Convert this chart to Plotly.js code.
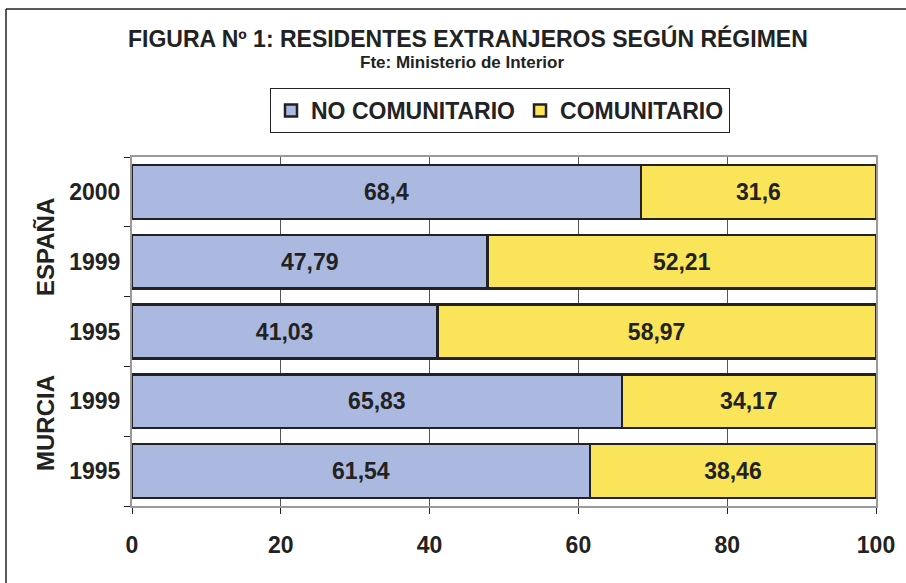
<!DOCTYPE html>
<html>
<head>
<meta charset="utf-8">
<script src="https://cdn.plot.ly/plotly-3.0.1.min.js"></script>
<style>
html,body{margin:0;padding:0;background:#fff;}
#chart{width:906px;height:583px;}
</style>
</head>
<body>
<div id="chart"></div>
<script>
// Data (bottom to top)
const categoryIds = ["MURCIA 1995", "MURCIA 1999", "ESPAÑA 1995", "ESPAÑA 1999", "ESPAÑA 2000"];
const yearLabels = ["1995", "1999", "1995", "1999", "2000"];
const groupLabels = ["ESPAÑA", "MURCIA"];
const noComunitario = [61.54, 65.83, 41.03, 47.79, 68.4];
const comunitario = [38.46, 34.17, 58.97, 52.21, 31.6];
const seriesNames = ["NO COMUNITARIO", "COMUNITARIO"];
const xTicks = [0, 20, 40, 60, 80, 100];

const fmt = v => String(v).replace('.', ',');
const FONT = "Arial, 'Liberation Sans', sans-serif";
const DARK = "#222222";

const mkTrace = (vals, name, color) => ({
  type: 'bar',
  orientation: 'h',
  y: categoryIds,
  x: vals,
  name: name,
  text: vals.map(fmt),
  textposition: 'inside',
  insidetextanchor: 'middle',
  textangle: 0,
  textfont: {family: FONT, size: 23, color: DARK, weight: 'bold'},
  marker: {color: color, line: {color: DARK, width: 2.5}},
  hoverinfo: 'skip'
});

const data = [
  mkTrace(noComunitario, seriesNames[0], '#abb9e0'),
  mkTrace(comunitario, seriesNames[1], '#f9e45a')
];

// pixel -> paper helpers (plot area 132..876 x, 157..506 y)
const L = 132, R = 30, T = 157, B = 77, W = 906 - L - R, H = 583 - T - B;
const px = x => (x - L) / W;
const py = y => (583 - B - y) / H;

const layout = {
  width: 906, height: 583,
  margin: {l: L, r: R, t: T, b: B, pad: 0},
  paper_bgcolor: '#ffffff',
  plot_bgcolor: '#ffffff',
  barmode: 'stack',
  bargap: 0.23,
  showlegend: true,
  legend: {
    orientation: 'h',
    x: px(500), xanchor: 'center',
    y: py(88), yanchor: 'top',
    bordercolor: DARK, borderwidth: 1,
    bgcolor: '#ffffff',
    font: {family: FONT, size: 23, color: DARK, weight: 'bold'},
    itemwidth: 30,
    traceorder: 'normal'
  },
  xaxis: {
    range: [0, 100],
    tickvals: xTicks,
    ticktext: xTicks.map(String),
    ticks: 'outside', ticklen: 6, tickcolor: DARK, tickwidth: 1,
    ticklabelstandoff: 11,
    showgrid: true, gridcolor: '#555555', gridwidth: 1,
    showline: true, linecolor: '#9a9a9a', linewidth: 2, mirror: true,
    zeroline: false,
    tickfont: {family: FONT, size: 23, color: DARK, weight: 'bold'},
    fixedrange: true
  },
  yaxis: {
    type: 'category',
    categoryorder: 'array',
    categoryarray: categoryIds,
    tickvals: categoryIds,
    ticktext: yearLabels,
    tickson: 'boundaries',
    ticks: 'outside', ticklen: 6, tickcolor: DARK, tickwidth: 1,
    ticklabelstandoff: 5,
    showgrid: false,
    showline: true, linecolor: '#9a9a9a', linewidth: 2, mirror: true,
    zeroline: false,
    tickfont: {family: FONT, size: 23, color: DARK, weight: 'bold'},
    fixedrange: true
  },
  annotations: [
    {xref: 'paper', yref: 'paper', x: px(468), y: py(38), xanchor: 'center', yanchor: 'middle',
     text: 'FIGURA Nº 1: RESIDENTES EXTRANJEROS SEGÚN RÉGIMEN', showarrow: false,
     font: {family: FONT, size: 23, color: DARK, weight: 'bold'}},
    {xref: 'paper', yref: 'paper', x: px(462), y: py(62), xanchor: 'center', yanchor: 'middle',
     text: 'Fte: Ministerio de Interior', showarrow: false,
     font: {family: FONT, size: 17, color: DARK, weight: 'bold'}},
    {xref: 'paper', yref: 'paper', x: px(45), y: py(247), xanchor: 'center', yanchor: 'middle',
     text: groupLabels[0], textangle: -90, showarrow: false,
     font: {family: FONT, size: 24, color: DARK, weight: 'bold'}},
    {xref: 'paper', yref: 'paper', x: px(45), y: py(423), xanchor: 'center', yanchor: 'middle',
     text: groupLabels[1], textangle: -90, showarrow: false,
     font: {family: FONT, size: 24, color: DARK, weight: 'bold'}}
  ],
  shapes: [
    {type: 'line', xref: 'paper', yref: 'paper', x0: px(6), x1: px(6), y0: py(9), y1: py(590),
     line: {color: DARK, width: 1.5}},
    {type: 'line', xref: 'paper', yref: 'paper', x0: px(6), x1: px(910), y0: py(9), y1: py(9),
     line: {color: DARK, width: 1.5}}
  ]
};

Plotly.newPlot('chart', data, layout, {displayModeBar: false, staticPlot: true});
</script>
</body>
</html>
